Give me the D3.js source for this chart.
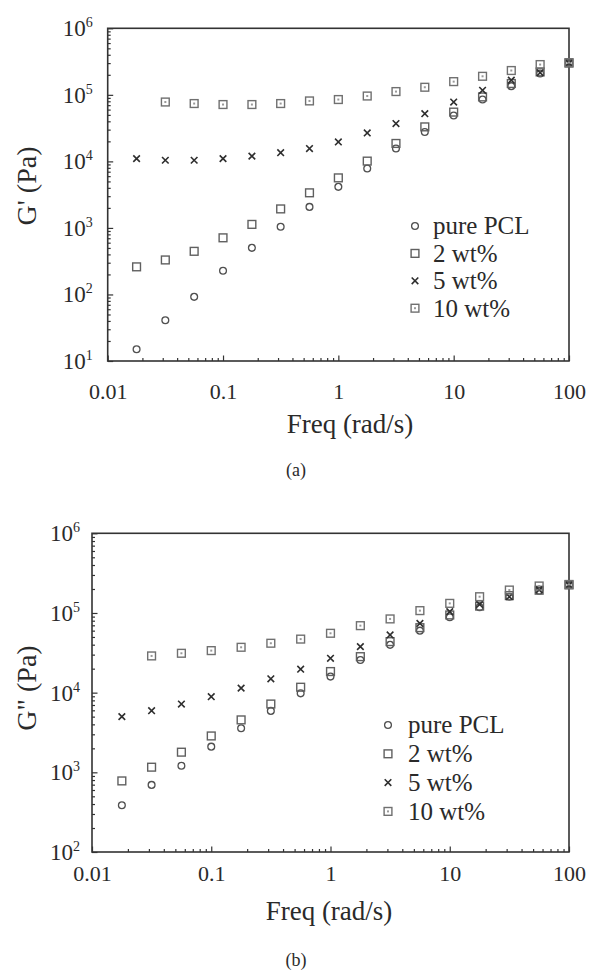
<!DOCTYPE html>
<html><head><meta charset="utf-8">
<script src="https://cdn.jsdelivr.net/npm/d3@7"></script>
<style>body{margin:0;background:#fff}</style>
</head><body><svg id="c" width="590" height="971"></svg>
<script>
// ---- data ----
const freq = [0.0178, 0.0316, 0.0562, 0.1, 0.178, 0.316, 0.562, 1, 1.78, 3.16, 5.62, 10, 17.8, 31.6, 56.2, 100];
const seriesNames = ["pure PCL", "2 wt%", "5 wt%", "10 wt%"];

const storagePCL  = [15, 41, 92, 227, 502, 1040, 2070, 4140, 7800, 15600, 27700, 49000, 85000, 135000, 209000, 300000];
const storage2wt  = [260, 330, 445, 710, 1130, 1930, 3370, 5650, 10100, 18600, 33000, 55000, 93000, 148000, 221000, 300000];
const storage5wt  = [11000, 10400, 10400, 11000, 12000, 13500, 15600, 19600, 26800, 37000, 52000, 78000, 117000, 166000, 215000, 300000];
const storage10wt = [null, 78000, 74000, 71500, 71500, 74000, 81000, 85000, 96000, 112000, 130000, 158000, 190000, 232000, 285000, 305000];

const lossPCL  = [386, 695, 1210, 2100, 3570, 5900, 9800, 15900, 25700, 39800, 60000, 88300, 118000, 160000, 190000, 225000];
const loss2wt  = [780, 1160, 1790, 2860, 4550, 7200, 11700, 18400, 28300, 43700, 65400, 94400, 122000, 165000, 193000, 225000];
const loss5wt  = [5000, 5940, 7200, 8900, 11400, 14900, 19700, 27000, 37800, 53000, 74000, 104000, 128000, 160000, 195000, 225000];
const loss10wt = [null, 28900, 31200, 33700, 37100, 41700, 47000, 55600, 69300, 84200, 107000, 132000, 160000, 194000, 218000, 228000];

const xTickValues = [0.01, 0.1, 1, 10, 100];
const xTickLabels = ["0.01", "0.1", "1", "10", "100"];
const yTickExpA = [1, 2, 3, 4, 5, 6];
const yTickExpB = [2, 3, 4, 5, 6];
const xTitle = "Freq (rad/s)";
const yTitles = ["G' (Pa)", "G\" (Pa)"];
const captions = ["(a)", "(b)"];

// ---- drawing ----
const svg = d3.select("#c");
const FONT = '"Liberation Serif", "Tinos", "Times New Roman", monospace';
const AX = "#333";
const TXT = "#2a2a2a";

function marker(g, kind) {
  if (kind === 0) {
    g.append("circle").attr("r", 3.4).attr("fill", "none").attr("stroke", "#505050").attr("stroke-width", 1.3);
  } else if (kind === 1) {
    g.append("rect").attr("x", -3.9).attr("y", -3.9).attr("width", 7.8).attr("height", 7.8)
      .attr("fill", "none").attr("stroke", "#606060").attr("stroke-width", 1.4);
  } else if (kind === 2) {
    g.append("path").attr("d", "M-3.3,-3.3L3.3,3.3M-3.3,3.3L3.3,-3.3")
      .attr("stroke", "#2e2e2e").attr("stroke-width", 1.6).attr("fill", "none");
  } else {
    g.append("rect").attr("x", -3.9).attr("y", -3.9).attr("width", 7.8).attr("height", 7.8)
      .attr("fill", "none").attr("stroke", "#707070").attr("stroke-width", 1.4);
    g.append("rect").attr("x", -1).attr("y", -1).attr("width", 2).attr("height", 2).attr("fill", "#999");
  }
}

function txt(sel) { return sel.style("font-family", FONT).attr("fill", TXT); }

function panel(cfg) {
  const x = d3.scaleLog().domain([0.01, 100]).range([cfg.left, cfg.right]);
  const y = d3.scaleLog().domain(cfg.yDomain).range([cfg.bottom, cfg.top]);
  const g = svg.append("g");

  const xMinor = [], yMinor = [];
  for (let e = -2; e < 2; e++) for (let m = 2; m <= 9; m++) xMinor.push(m * Math.pow(10, e));
  const e0 = Math.round(Math.log10(cfg.yDomain[0])), e1 = Math.round(Math.log10(cfg.yDomain[1]));
  for (let e = e0; e < e1; e++) for (let m = 2; m <= 9; m++) yMinor.push(m * Math.pow(10, e));

  const styleAxis = sel => { sel.selectAll("path").remove(); sel.selectAll("line").attr("stroke", AX).attr("stroke-width", 1.2); };

  g.append("g").attr("transform", `translate(0,${cfg.bottom})`)
    .call(d3.axisBottom(x).tickValues(xMinor).tickSize(-3).tickFormat("")).call(styleAxis);
  g.append("g").attr("transform", `translate(0,${cfg.bottom})`)
    .call(d3.axisBottom(x).tickValues(xTickValues).tickSize(-5.5).tickPadding(cfg.xPad)
      .tickFormat((d, i) => xTickLabels[i]))
    .call(styleAxis)
    .call(s => txt(s.selectAll("text")).attr("font-size", 22));

  g.append("g").attr("transform", `translate(${cfg.left},0)`)
    .call(d3.axisLeft(y).tickValues(yMinor).tickSize(-3).tickFormat("")).call(styleAxis);
  g.append("g").attr("transform", `translate(${cfg.left},0)`)
    .call(d3.axisLeft(y).tickValues(cfg.yExp.map(k => Math.pow(10, k))).tickSize(-5.5).tickFormat(""))
    .call(styleAxis);

  cfg.yExp.forEach(k => {
    const t = txt(g.append("text")).attr("x", cfg.left - cfg.yLabGap).attr("y", y(Math.pow(10, k)) + 8)
      .attr("text-anchor", "end").attr("font-size", 23);
    t.append("tspan").text("10");
    t.append("tspan").attr("font-size", 14).attr("dy", -9).text(String(k));
  });

  g.append("rect").attr("x", cfg.left).attr("y", cfg.top)
    .attr("width", cfg.right - cfg.left).attr("height", cfg.bottom - cfg.top)
    .attr("fill", "none").attr("stroke", AX).attr("stroke-width", 1.6);

  cfg.series.forEach((vals, si) => {
    vals.forEach((v, i) => {
      if (v == null) return;
      const mg = g.append("g").attr("transform", `translate(${x(freq[i])},${y(v)})`);
      marker(mg, si);
    });
  });

  seriesNames.forEach((name, i) => {
    const yy = cfg.legY + i * cfg.legStep;
    marker(g.append("g").attr("transform", `translate(${cfg.legX},${yy})`), i);
    txt(g.append("text")).attr("x", cfg.legX + cfg.legTextGap).attr("y", yy + 8.3)
      .attr("font-size", 25).text(name);
  });

  txt(g.append("text")).attr("x", cfg.xTitleX).attr("y", cfg.xTitleY).attr("text-anchor", "middle")
    .attr("font-size", 27).text(xTitle);
  txt(g.append("text")).attr("transform", `translate(${cfg.yTitleX},${cfg.yTitleY}) rotate(-90)`)
    .attr("text-anchor", "middle").attr("font-size", 28).text(cfg.yTitle);
  txt(g.append("text")).attr("x", cfg.capX).attr("y", cfg.capY).attr("text-anchor", "middle")
    .attr("font-size", 18).text(cfg.caption);
}

panel({
  left: 107.7, right: 569, top: 28.3, bottom: 361, yDomain: [10, 1e6], yExp: yTickExpA,
  xPad: 22, yLabGap: 15,
  series: [storagePCL, storage2wt, storage5wt, storage10wt],
  legX: 415, legY: 226, legStep: 27.4, legTextGap: 18,
  xTitleX: 350, xTitleY: 433, yTitleX: 36, yTitleY: 186, yTitle: yTitles[0],
  capX: 296, capY: 476, caption: captions[0]
});

panel({
  left: 92, right: 569, top: 533.3, bottom: 852, yDomain: [100, 1e6], yExp: yTickExpB,
  xPad: 13, yLabGap: 12,
  series: [lossPCL, loss2wt, loss5wt, loss10wt],
  legX: 388, legY: 725, legStep: 28.8, legTextGap: 20,
  xTitleX: 329, xTitleY: 920, yTitleX: 36, yTitleY: 688, yTitle: yTitles[1],
  capX: 296, capY: 966, caption: captions[1]
});
</script></body></html>
